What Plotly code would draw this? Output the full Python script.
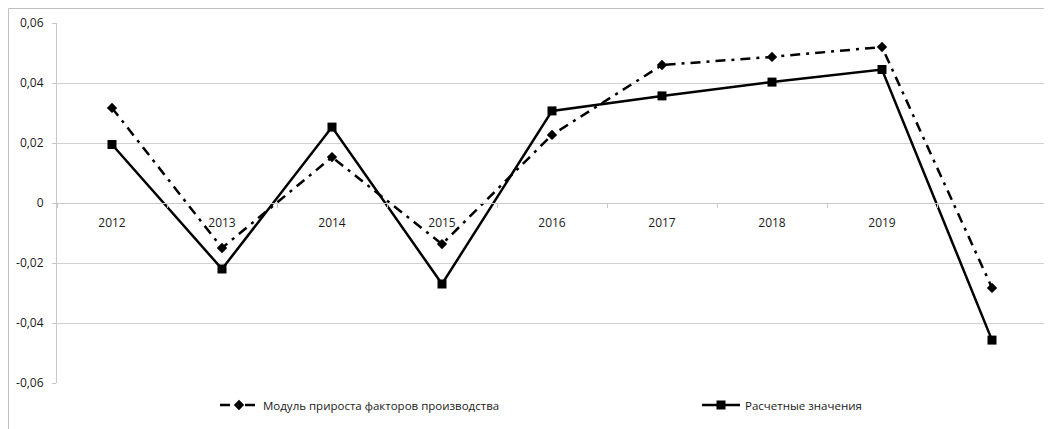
import plotly.graph_objects as go

categories = ["2012", "2013", "2014", "2015", "2016", "2017", "2018", "2019", "2020"]
tick_labels = ["2012", "2013", "2014", "2015", "2016", "2017", "2018", "2019", ""]
factor_growth = [0.0317, -0.0150, 0.0153, -0.0137, 0.0227, 0.0460, 0.0487, 0.0520, -0.0283]
calculated = [0.0195, -0.0220, 0.0253, -0.0270, 0.0307, 0.0357, 0.0403, 0.0445, -0.0457]
y_tickvals = [0.06, 0.04, 0.02, 0, -0.02, -0.04, -0.06]
y_ticktext = ["0,06", "0,04", "0,02", "0", "-0,02", "-0,04", "-0,06"]
series_names = ["Модуль прироста факторов производства", "Расчетные значения"]

fig = go.Figure()
fig.add_trace(go.Scatter(
    x=categories, y=factor_growth, name=series_names[0], mode="lines+markers",
    line=dict(color="black", width=2.5, dash="10px,6px,3px,6px"),
    marker=dict(symbol="diamond", size=8, color="black"),
    legend="legend",
))
fig.add_trace(go.Scatter(
    x=categories, y=calculated, name=series_names[1], mode="lines+markers",
    line=dict(color="black", width=2.5),
    marker=dict(symbol="square", size=9, color="black"),
    legend="legend2",
))

# page body has an 8px margin; compensate so the plot lands where the reference has it
OFF = 8
W, H = 1052 - OFF, 429 - OFF
L = 57 - OFF
T = 23 - OFF
R = W - (1047 - OFF)
B = H - (383 - OFF)
pw, ph = W - L - R, H - T - B

def px_x(sx):
    return (sx - 57) / pw

def px_y(sy):
    return (383 - sy) / ph

legend_common = dict(orientation="h", yanchor="middle", xanchor="left", y=px_y(405),
                     font=dict(size=11.5, color="#1a1a1a"), bgcolor="rgba(0,0,0,0)",
                     itemwidth=38)

fig.update_layout(
    width=W, height=H,
    margin=dict(l=L, r=R, t=T, b=B, autoexpand=False),
    paper_bgcolor="white", plot_bgcolor="white",
    font=dict(family="Open Sans, Liberation Sans, sans-serif", size=12, color="#1a1a1a"),
    showlegend=True,
    legend=dict(legend_common, x=px_x(215)),
    legend2=dict(legend_common, x=px_x(697)),
    xaxis=dict(type="category", tickvals=categories, ticktext=tick_labels,
               anchor="free", position=0.5, showline=True, linecolor="#c8c8c8", linewidth=1,
               ticks="outside", tickson="boundaries", ticklen=4, tickcolor="#c8c8c8",
               ticklabelstandoff=9, tickfont=dict(size=12),
               showgrid=False, zeroline=False, range=[-0.5, 8.5], fixedrange=True),
    yaxis=dict(range=[-0.06, 0.06], tickvals=y_tickvals, ticktext=y_ticktext,
               showgrid=True, gridcolor="#d0d0d0", gridwidth=1, zeroline=False,
               showline=True, linecolor="#c8c8c8", ticks="outside", ticklen=4,
               tickcolor="#c8c8c8", ticklabelstandoff=6, tickfont=dict(size=12),
               fixedrange=True),
    shapes=[dict(type="rect", xref="paper", yref="paper",
                 x0=px_x(OFF + 0.5), x1=px_x(1049),
                 y0=px_y(440), y1=px_y(8.5),
                 line=dict(color="#c0c0c0", width=1), layer="below")],
)

fig.write_html("out.html")
